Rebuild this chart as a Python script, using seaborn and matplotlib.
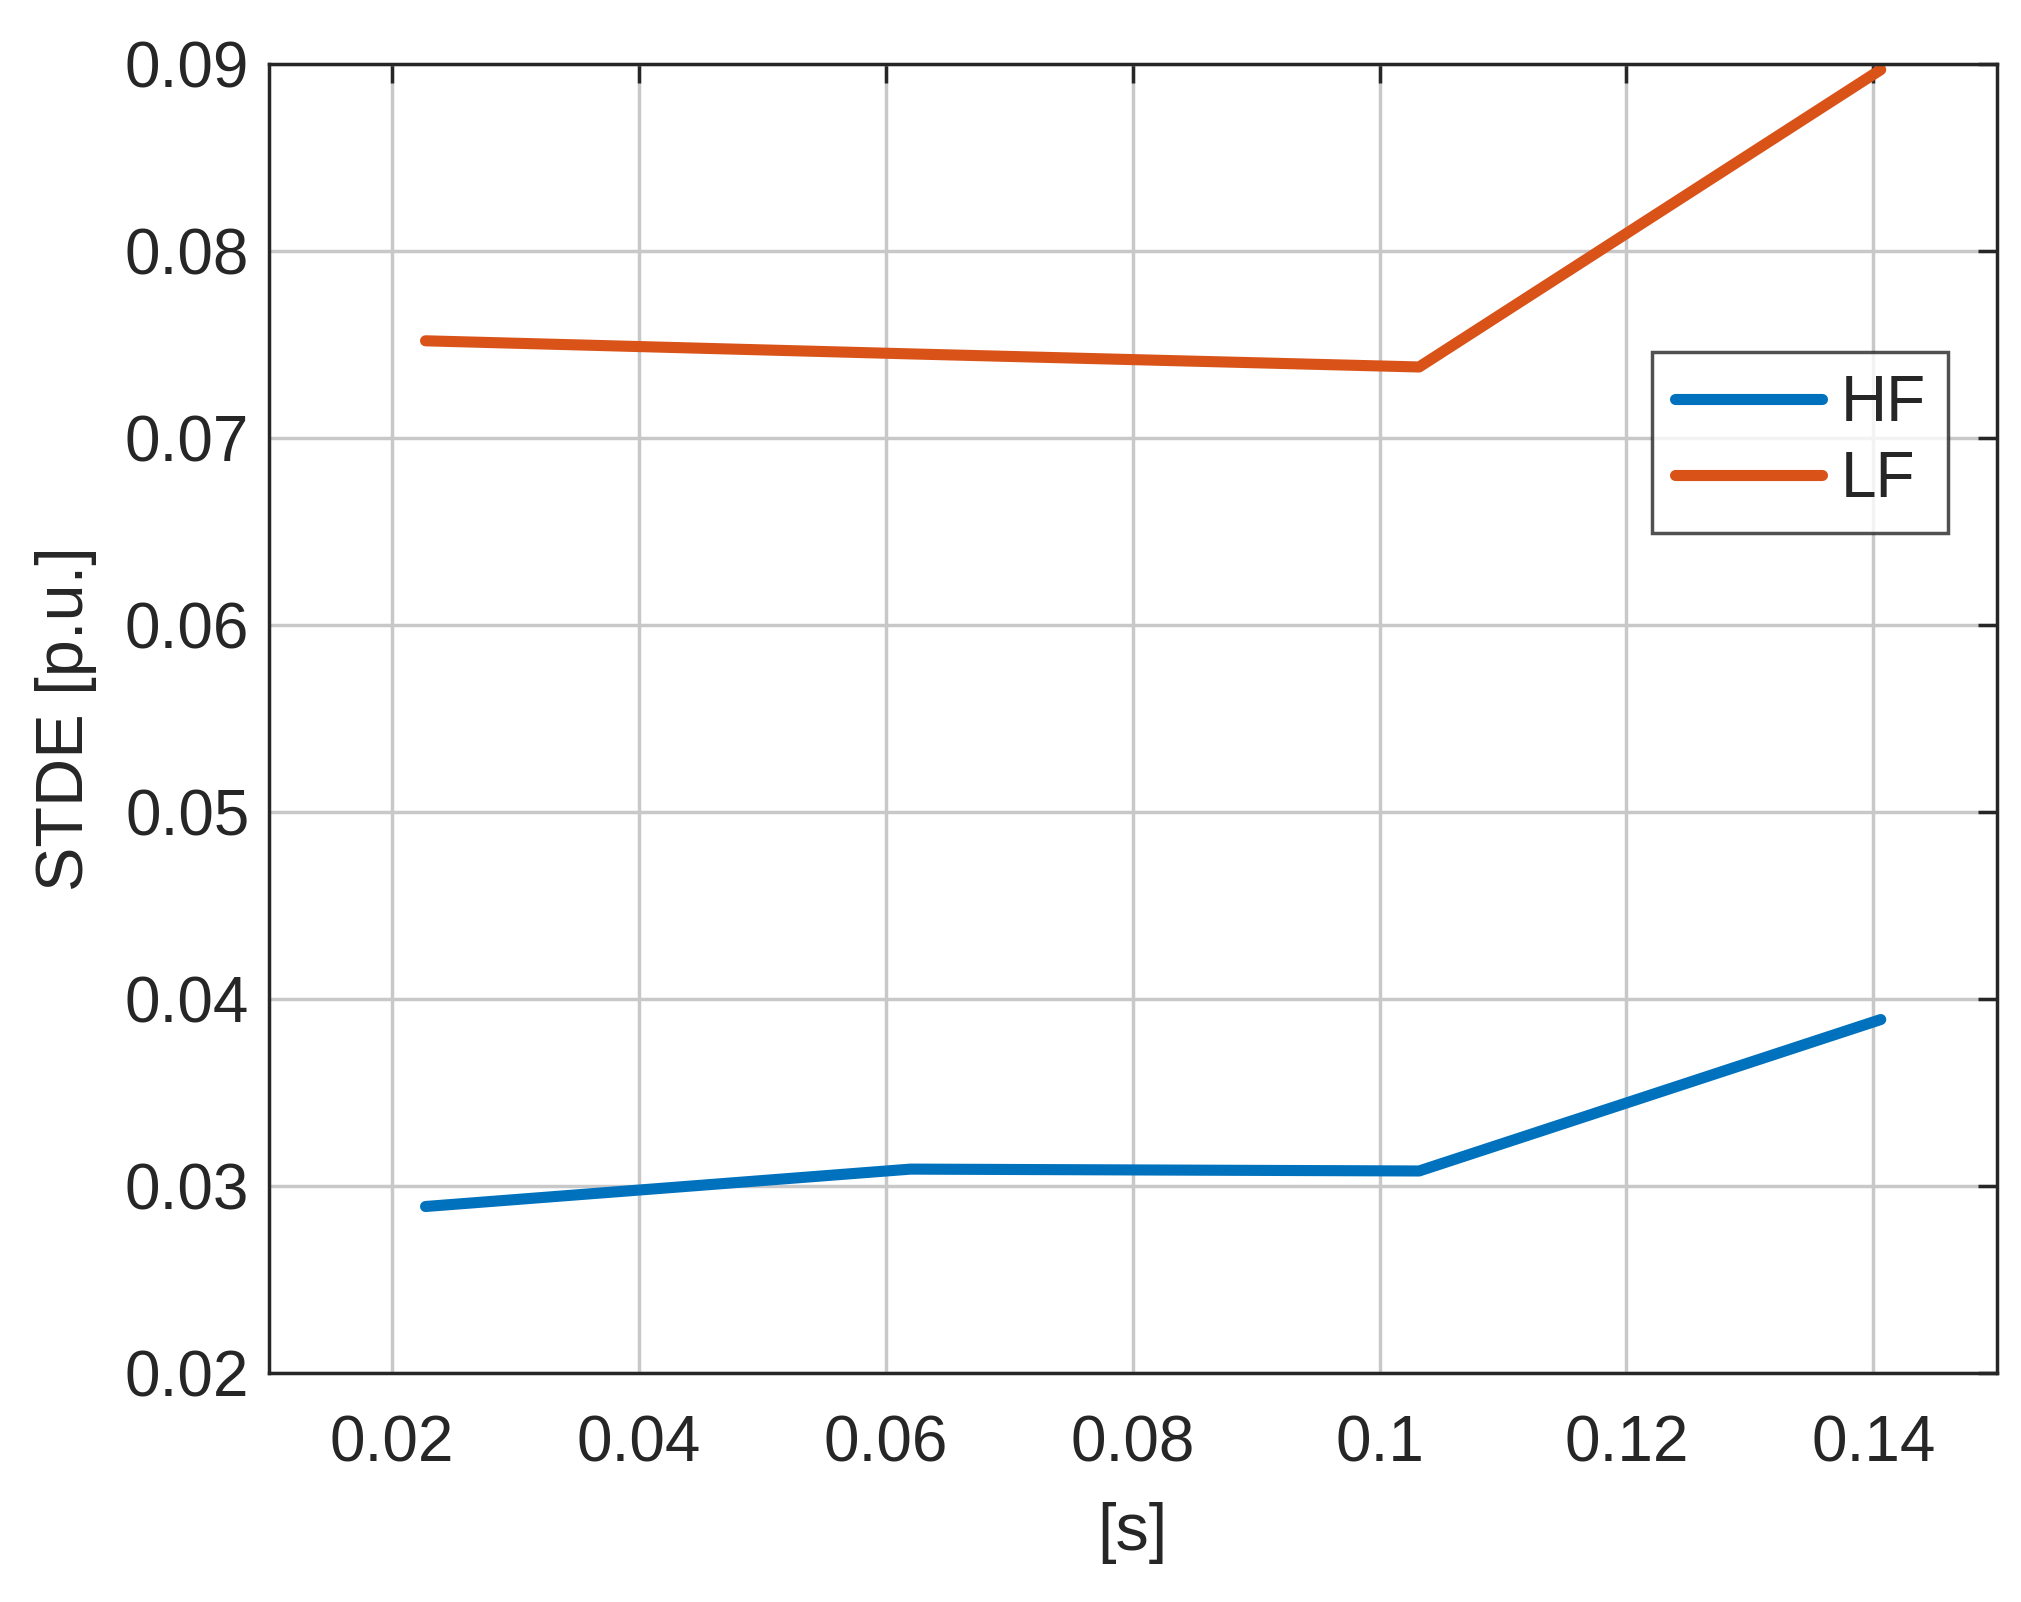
import matplotlib
matplotlib.use("Agg")
import matplotlib.pyplot as plt
import seaborn as sns
import pandas as pd

# values
x_vals = [0.0227, 0.062, 0.1032, 0.1406]
hf_vals = [0.0289, 0.0309, 0.0308, 0.0389]
lf_vals = [0.0752, 0.0745, 0.0738, 0.0897]
series = ["HF", "LF"]
colors = ["#0072BD", "#D95319"]

df = pd.DataFrame({
    "x": x_vals * 2,
    "y": hf_vals + lf_vals,
    "series": ["HF"] * len(x_vals) + ["LF"] * len(x_vals),
})

sns.set_style("white")
plt.rcParams["font.family"] = ["Liberation Sans", "DejaVu Sans"]

fig = plt.figure(figsize=(20.21, 16.02), dpi=100)
ax = fig.add_axes([0.133, 0.143, 0.855, 0.817])

sns.lineplot(data=df, x="x", y="y", hue="series", hue_order=series,
             palette=colors, linewidth=8, ax=ax)

ax.set_xlim(0.01, 0.15)
ax.set_ylim(0.02, 0.09)
ax.set_xticks([0.02, 0.04, 0.06, 0.08, 0.1, 0.12, 0.14])
ax.set_xticklabels(["0.02", "0.04", "0.06", "0.08", "0.1", "0.12", "0.14"])
ax.set_yticks([0.02, 0.03, 0.04, 0.05, 0.06, 0.07, 0.08, 0.09])
ax.set_yticklabels(["0.02", "0.03", "0.04", "0.05", "0.06", "0.07", "0.08", "0.09"])
ax.grid(True, color="#c8c8c8", linewidth=2.5)
ax.tick_params(direction="in", length=14, width=2.5, labelsize=46,
               top=True, right=True, colors="#262626", pad=14)
ax.tick_params(axis="x", pad=30)
for s in ax.spines.values():
    s.set_linewidth(2.5)
    s.set_color("#262626")

ax.set_xlabel("[s]", fontsize=48, color="#262626", labelpad=20)
ax.set_ylabel("STDE [p.u.]", fontsize=48, color="#262626", labelpad=20)

leg = ax.legend(loc="upper right", bbox_to_anchor=(0.972, 0.78), fontsize=46,
                frameon=True, fancybox=False, handlelength=2.3,
                handletextpad=0.3, borderpad=0.35, labelspacing=0.25,
                borderaxespad=0)
leg.get_frame().set_edgecolor("#262626")
leg.get_frame().set_linewidth(2.5)
for line in leg.get_lines():
    line.set_linewidth(8)

fig.savefig("out.png", dpi=100)
